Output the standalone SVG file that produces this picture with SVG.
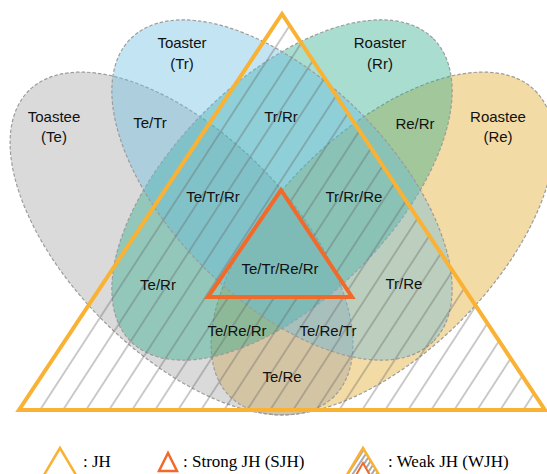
<svg xmlns="http://www.w3.org/2000/svg" width="547" height="474" viewBox="0 0 547 474">
<style>
.set{stroke:#9c9c9c;stroke-width:1.2;stroke-dasharray:3.5 2;fill-opacity:0.4}
.lbl{font-family:"Liberation Sans",Arial,sans-serif;font-size:15px;fill:#111;text-anchor:middle}
.leg{font-family:"Liberation Serif","Times New Roman",serif;font-size:17px;fill:#000}
.jh{fill:none;stroke:#F9B233;stroke-width:4;stroke-linejoin:miter}
.sjh{fill:none;stroke:#F26A2A;stroke-width:4;stroke-linejoin:miter}
</style>
<defs>
<pattern id="hatch" patternUnits="userSpaceOnUse" width="19.3" height="20" patternTransform="translate(31.9 404.74) rotate(33)">
<line x1="9.65" y1="-1" x2="9.65" y2="21" stroke="#666" stroke-width="0.7"/>
</pattern>
<pattern id="hatch2" patternUnits="userSpaceOnUse" width="4" height="8" patternTransform="rotate(33)">
<line x1="2" y1="-1" x2="2" y2="9" stroke="#707070" stroke-width="1.2"/>
</pattern>
</defs>
<g id="node-Re">
<ellipse class="set" fill="#E1A51E" cx="0" cy="0" rx="216" ry="110" transform="translate(382.5 243.5) rotate(-45)"/>
</g>
<g id="node-Te">
<ellipse class="set" fill="#A3A3A3" cx="0" cy="0" rx="216" ry="110" transform="translate(181.5 243.5) rotate(45)"/>
</g>
<g id="node-Rr">
<ellipse class="set" fill="#26AA8A" cx="0" cy="0" rx="214" ry="110" transform="translate(282 190) rotate(-45)"/>
</g>
<g id="node-Tr">
<ellipse class="set" fill="#69BCE1" cx="0" cy="0" rx="214" ry="110" transform="translate(282 190) rotate(45)"/>
</g>
<g id="hatching">
<path d="M282,14 L19,410 L545,410 Z M281,190 L208,297 L352,297 Z" fill="url(#hatch)" fill-rule="evenodd"/>
</g>
<g id="node-JH">
<polygon class="jh" points="282,14 19,410 545,410"/>
</g>
<g id="node-SJH">
<polygon class="sjh" points="281,190 208,297 352,297"/>
</g>
<g id="set-labels">
<text class="lbl" x="182" y="48">Toaster</text>
<text class="lbl" x="182" y="69">(Tr)</text>
<text class="lbl" x="54" y="122">Toastee</text>
<text class="lbl" x="54" y="142">(Te)</text>
<text class="lbl" x="380" y="48">Roaster</text>
<text class="lbl" x="380" y="69">(Rr)</text>
<text class="lbl" x="498" y="122">Roastee</text>
<text class="lbl" x="498" y="142">(Re)</text>
</g>
<g id="region-labels">
<text class="lbl" x="150" y="128">Te/Tr</text>
<text class="lbl" x="281" y="122">Tr/Rr</text>
<text class="lbl" x="415" y="129">Re/Rr</text>
<text class="lbl" x="213" y="202">Te/Tr/Rr</text>
<text class="lbl" x="354" y="202">Tr/Rr/Re</text>
<text class="lbl" x="280" y="274">Te/Tr/Re/Rr</text>
<text class="lbl" x="158" y="290">Te/Rr</text>
<text class="lbl" x="404" y="289">Tr/Re</text>
<text class="lbl" x="237" y="336">Te/Re/Rr</text>
<text class="lbl" x="328" y="336">Te/Re/Tr</text>
<text class="lbl" x="282" y="382">Te/Re</text>
</g>
<g id="legend">
<polygon points="60,448 41,480 79,480" fill="none" stroke="#F9B233" stroke-width="2.5"/>
<text class="leg" x="83" y="467">: JH</text>
<polygon points="168,453 159,471 177,471" fill="none" stroke="#F26A2A" stroke-width="2.5"/>
<text class="leg" x="183" y="467">: Strong JH (SJH)</text>
<polygon points="363,448 345,478 381,478" fill="url(#hatch2)" stroke="#F9B233" stroke-width="2.5"/>
<polygon points="363,463 355,477 371,477" fill="#fff" stroke="#F26A2A" stroke-width="2"/>
<text class="leg" x="388" y="467">: Weak JH (WJH)</text>
</g>
</svg>
